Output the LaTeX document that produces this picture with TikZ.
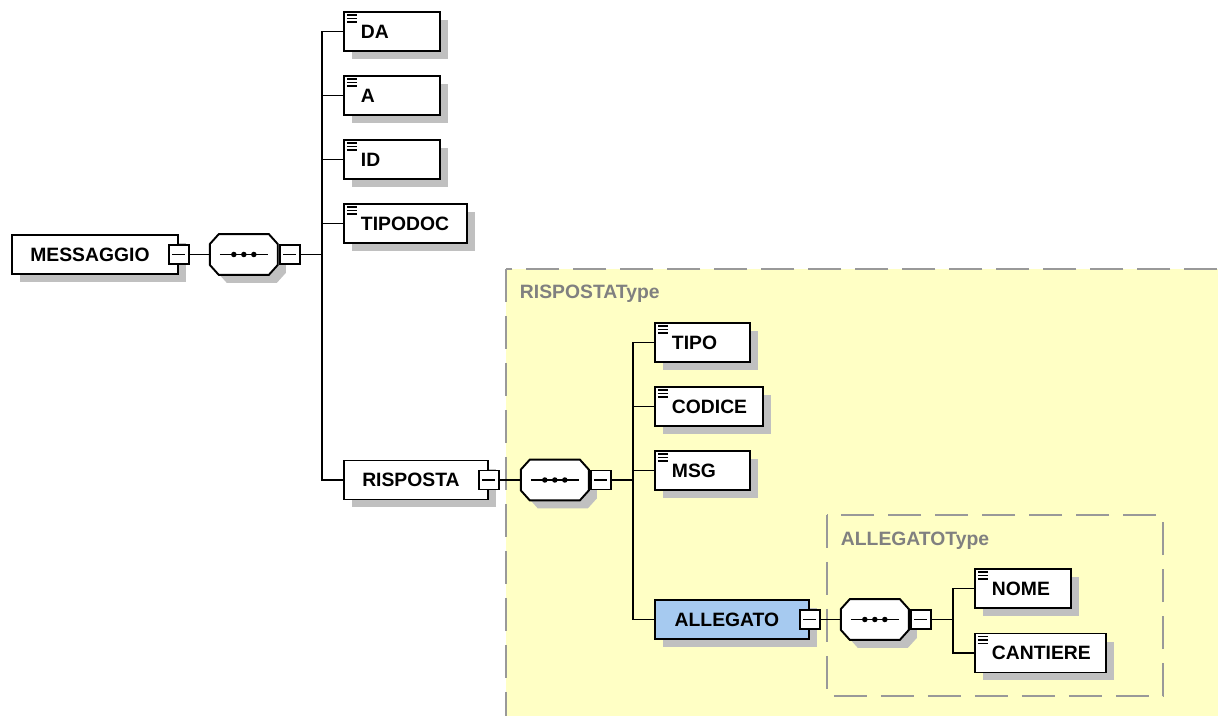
\documentclass[tikz,border=0pt]{standalone}
\usepackage{fontspec}
\setmainfont{Liberation Sans}
\usepackage{tikz}
\usetikzlibrary{positioning}
\usetikzlibrary{shadows}

\definecolor{typefill}{RGB}{255,255,197}
\definecolor{typeline}{RGB}{153,153,153}
\definecolor{typetext}{RGB}{128,128,128}
\definecolor{selfill}{RGB}{166,202,240}
\definecolor{shadowgray}{RGB}{192,192,192}

% octagon round a sequence node, #2 = offset of the shadow
\newcommand{\octpath}[2]{([shift={(9+#2,#2)}]#1.north west) -- ([shift={(-9+#2,#2)}]#1.north east)
  -- ([shift={(#2,10+#2)}]#1.north east) -- ([shift={(#2,-10+#2)}]#1.south east)
  -- ([shift={(-9+#2,#2)}]#1.south east) -- ([shift={(9+#2,#2)}]#1.south west)
  -- ([shift={(#2,-10+#2)}]#1.south west) -- ([shift={(#2,10+#2)}]#1.north west) -- cycle}
\newcommand{\seqframe}[1]{%
  \fill[shadowgray] \octpath{#1}{8};
  \draw[fill=white] \octpath{#1}{0};
  \draw[line width=0.8pt] ([xshift=-0.48cm]#1.center) -- ([xshift=0.48cm]#1.center);
  \foreach \dx in {-0.2,0,0.2}
    \fill[black] ([xshift=\dx cm]#1.center) circle (0.055cm);
}

\begin{document}
\begin{tikzpicture}[x=0.02cm, y=-0.02cm, line width=1.1pt,
  boxshadow/.style={drop shadow={shadow xshift=0.16cm, shadow yshift=-0.16cm, fill=shadowgray, opacity=1}},
  box/.style={draw, fill=white, minimum height=0.78cm, inner ysep=0pt,
    font=\bfseries\fontsize{11}{13}\selectfont, boxshadow},
  elem/.style={box, anchor=west, inner xsep=0.34cm, text width=#1, align=left,
    path picture={\foreach \dy in {0.06,0.13,0.20}
      \draw[line width=0.6pt] ([xshift=0.06cm, yshift=-\dy cm]path picture bounding box.north west) -- ++(0.2cm,0);}},
  cplx/.style={box, anchor=west, minimum width=#1, execute at end node={\kern0.2cm}},
  minusbox/.style={draw, fill=white, minimum width=0.4cm, minimum height=0.38cm, inner sep=0pt,
    path picture={\draw[line width=0.8pt] ([xshift=-0.13cm]path picture bounding box.center) -- ([xshift=0.13cm]path picture bounding box.center);}},
  seqbox/.style={minimum width=1.32cm, minimum height=0.78cm, inner sep=0pt},
  typebox/.style={draw=typeline, fill=typefill, dash pattern=on 0.66cm off 0.28cm},
  typelabel/.style={anchor=west, inner sep=0pt, text=typetext, font=\bfseries\fontsize{11}{13}\selectfont}
]
\useasboundingbox (0,0) rectangle (1218,716);
\clip (0,0) rectangle (1218,716);

% -------------------------------------------------------
% 1. Type regions
% -------------------------------------------------------
\draw[typebox] (506,269) rectangle (1250,750);
\node[typelabel] (rtype) at (519,294) {RISPOSTAType};
\draw[typebox] (827,515) rectangle (1163,696);
\node[typelabel] (atype) at (840,541) {ALLEGATOType};

% -------------------------------------------------------
% 2. Root element and its sequence
% -------------------------------------------------------
\node[cplx=3.32cm] (messaggio) at (11,254.5) {MESSAGGIO};
\node[minusbox] (messaggio-m) at (messaggio.east) {};
\node[seqbox, right=0.4cm of messaggio-m] (seq1) {};
\seqframe{seq1}
\node[minusbox, right=0.02cm of seq1] (seq1-m) {};
\coordinate[right=0.42cm of seq1-m] (t1);

\node[elem=1.24cm] (da) at (343,31.5) {DA};
\node[elem=1.24cm] (a) at (343,95.5) {A};
\node[elem=1.24cm] (id) at (343,159.5) {ID};
\node[elem=1.78cm] (tipodoc) at (343,223.5) {TIPODOC};
\node[cplx=2.88cm] (risposta) at (343,480) {RISPOSTA};

\draw (messaggio-m) -- (seq1);
\draw (seq1-m) -- (t1);
\foreach \c in {da,a,id,tipodoc,risposta}
  \draw (t1) |- (\c.west);

% -------------------------------------------------------
% 3. RISPOSTA content
% -------------------------------------------------------
\node[minusbox] (risposta-m) at (risposta.east) {};
\node[seqbox, right=0.42cm of risposta-m] (seq2) {};
\seqframe{seq2}
\node[minusbox, right=0.02cm of seq2] (seq2-m) {};
\coordinate[right=0.42cm of seq2-m] (t2);

\node[elem=1.22cm] (tipo) at (654,342.5) {TIPO};
\node[elem=1.48cm] (codice) at (654,406.5) {CODICE};
\node[elem=1.22cm] (msg) at (654,470.5) {MSG};
\node[cplx=3.08cm, fill=selfill] (allegato) at (654,619.5) {ALLEGATO};

\draw (risposta-m) -- (seq2);
\draw (seq2-m) -- (t2);
\foreach \c in {tipo,codice,msg,allegato}
  \draw (t2) |- (\c.west);

% -------------------------------------------------------
% 4. ALLEGATO content
% -------------------------------------------------------
\node[minusbox] (allegato-m) at (allegato.east) {};
\node[seqbox, right=0.4cm of allegato-m] (seq3) {};
\seqframe{seq3}
\node[minusbox, right=0.02cm of seq3] (seq3-m) {};
\coordinate[right=0.42cm of seq3-m] (t3);

\node[elem=1.24cm] (nome) at (974,588.5) {NOME};
\node[elem=1.94cm] (cantiere) at (974,653) {CANTIERE};

\draw (allegato-m) -- (seq3);
\draw (seq3-m) -- (t3);
\foreach \c in {nome,cantiere}
  \draw (t3) |- (\c.west);

\end{tikzpicture}
\end{document}
